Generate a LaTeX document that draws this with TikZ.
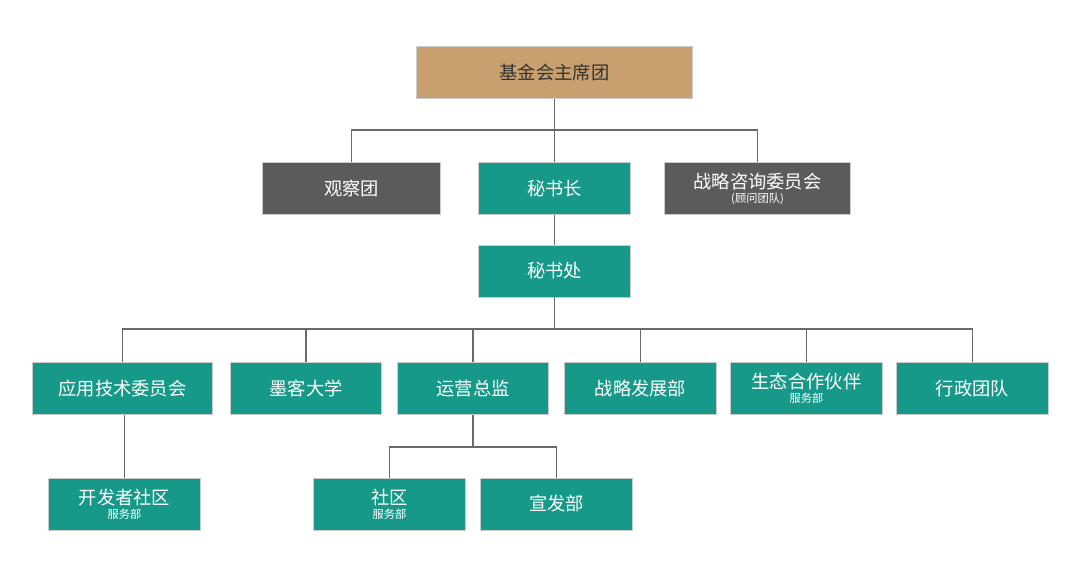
\documentclass[tikz,border=0pt]{standalone}
\usepackage{fontspec}
\setmainfont{Noto Sans CJK SC}
\usetikzlibrary{positioning}
\definecolor{boxteal}{HTML}{17998A}
\definecolor{boxgray}{HTML}{5B5B5B}
\definecolor{boxbrown}{HTML}{C8A06F}
\definecolor{linegray}{HTML}{6A6A6A}

\tikzset{
  unit/.style={draw=white!80!black, line width=0.6pt, text=white, align=center,
    minimum width=3.78cm, minimum height=1.3cm, inner sep=0pt, font=\fontsize{13}{15}\selectfont},
  teal unit/.style={unit, fill=boxteal},
  gray unit/.style={unit, fill=boxgray},
  link/.style={draw=linegray, line width=1.3pt},
}
\newcommand{\sub}[1]{\\[-5pt]{\fontsize{8}{9}\selectfont #1}}

\begin{document}
\begin{tikzpicture}[x=0.025cm, y=-0.025cm]
\useasboundingbox[fill=white] (0,0) rectangle (1080,564);

% top levels
\node[unit, fill=boxbrown, text=black!80, minimum width=6.9cm] (board) at (554.5,72.5) {基金会主席团};
\node[gray unit, minimum width=4.43cm] (observe) at (351.5,188.5) {观察团};
\node[teal unit] (secgen) at (554.5,188.5) {秘书长};
\node[gray unit, minimum width=4.63cm] (advise) at (757.5,188.5) {战略咨询委员会\sub{(顾问团队)}};
\node[teal unit] (office) at (554.5,271) {秘书处};

% departments
\node[teal unit, minimum width=4.48cm] (tech) at (122.5,388.5) {应用技术委员会};
\node[teal unit] (univ) at (306,388.5) {墨客大学};
\node[teal unit] (ops) at (473,388.5) {运营总监};
\node[teal unit] (strat) at (640.5,388.5) {战略发展部};
\node[teal unit] (eco) at (806.5,388.5) {生态合作伙伴\sub{服务部}};
\node[teal unit] (admin) at (972.5,388.5) {行政团队};

% sub units
\node[teal unit] (dev) at (124.5,504) {开发者社区\sub{服务部}};
\node[teal unit] (comm) at (389.5,504) {社区\sub{服务部}};
\node[teal unit] (pr) at (556.5,504) {宣发部};

% connectors
\coordinate (bus1) at (554.5,130);
\path[link] (board) -- (secgen);
\foreach \n in {observe, advise}
  \path[link] (bus1) -| (\n);
\path[link] (secgen) -- (office);
\coordinate (bus2) at (554.5,329);
\path[link] (office) -- (bus2);
\foreach \n in {tech, univ, ops, strat, eco, admin}
  \path[link] (bus2) -| (\n);
\path[link] (tech.south -| dev) -- (dev);
\coordinate (bus3) at (473,447);
\path[link] (ops) -- (bus3);
\foreach \n in {comm, pr}
  \path[link] (bus3) -| (\n);
\end{tikzpicture}
\end{document}
